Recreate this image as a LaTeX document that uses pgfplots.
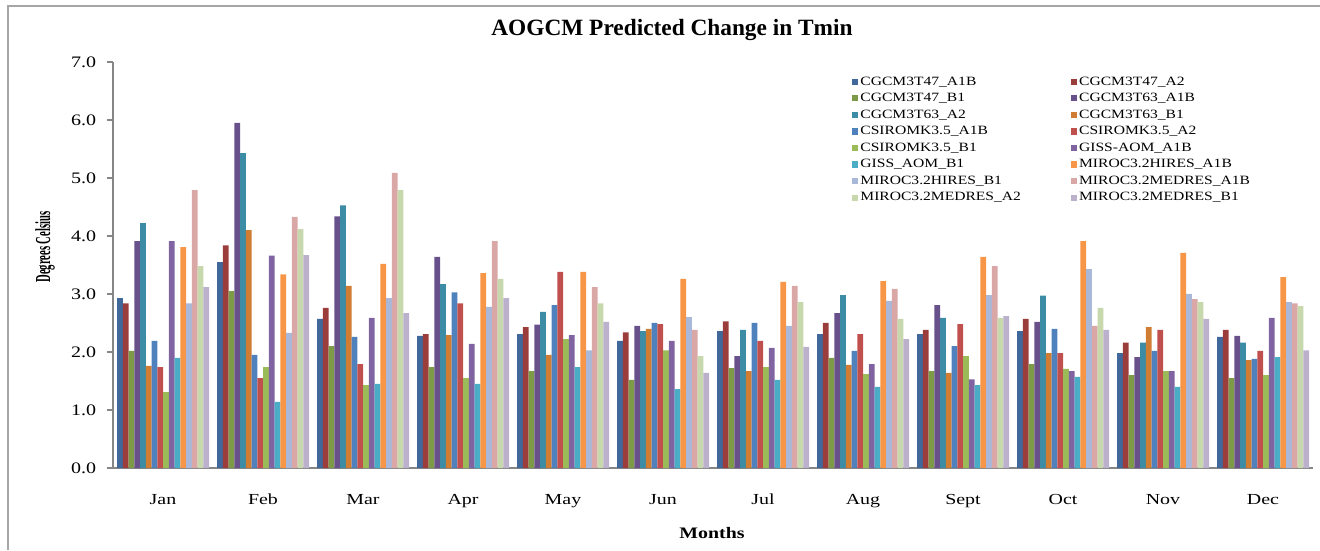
\documentclass[border=0pt]{standalone}
\usepackage{graphicx}
\usepackage{fontspec}
\setmainfont{Liberation Serif}
\usepackage{pgfplots}
\usepackage{pgfplotstable}
\pgfplotsset{compat=1.18}
\definecolor{c1}{HTML}{41689A}
\definecolor{c2}{HTML}{9B3D3A}
\definecolor{c3}{HTML}{7D9A47}
\definecolor{c4}{HTML}{68518A}
\definecolor{c5}{HTML}{3B8CA4}
\definecolor{c6}{HTML}{D07C33}
\definecolor{c7}{HTML}{4F81BD}
\definecolor{c8}{HTML}{C0504D}
\definecolor{c9}{HTML}{9BBB59}
\definecolor{c10}{HTML}{8064A2}
\definecolor{c11}{HTML}{4BACC6}
\definecolor{c12}{HTML}{F79646}
\definecolor{c13}{HTML}{A9B8D9}
\definecolor{c14}{HTML}{D9A7A6}
\definecolor{c15}{HTML}{C7D8AC}
\definecolor{c16}{HTML}{BCB1CC}
\definecolor{axgray}{HTML}{868686}
\definecolor{framegray}{HTML}{A6A6A6}
\newcommand\sx[2][1.3]{\scalebox{#1}[1]{#2}}
\newcommand\mx[1]{\scalebox{1.3}[1]{#1}}
\pgfplotstableread{
x s1 s2 s3 s4 s5 s6 s7 s8 s9 s10 s11 s12 s13 s14 s15 s16
0  2.93 2.84 2.02 3.91 4.22 1.76 2.19 1.74 1.31 3.91 1.90 3.81 2.84 4.79 3.48 3.12
1  3.55 3.84 3.05 5.95 5.43 4.10 1.95 1.55 1.74 3.66 1.14 3.34 2.33 4.33 4.12 3.67
2  2.57 2.76 2.10 4.34 4.53 3.14 2.26 1.79 1.43 2.59 1.45 3.52 2.93 5.09 4.79 2.67
3  2.28 2.31 1.74 3.64 3.17 2.29 3.03 2.84 1.55 2.14 1.45 3.36 2.78 3.91 3.26 2.93
4  2.31 2.43 1.67 2.47 2.69 1.95 2.81 3.38 2.22 2.29 1.74 3.38 2.03 3.12 2.84 2.52
5  2.19 2.34 1.52 2.45 2.36 2.40 2.50 2.48 2.03 2.19 1.36 3.26 2.60 2.38 1.93 1.64
6  2.36 2.53 1.72 1.93 2.38 1.67 2.50 2.19 1.74 2.07 1.52 3.21 2.45 3.14 2.86 2.09
7  2.31 2.50 1.90 2.67 2.98 1.78 2.02 2.31 1.62 1.79 1.40 3.22 2.88 3.09 2.57 2.22
8  2.31 2.38 1.67 2.81 2.59 1.64 2.10 2.48 1.93 1.53 1.43 3.64 2.98 3.48 2.59 2.62
9  2.36 2.57 1.79 2.52 2.97 1.98 2.40 1.98 1.71 1.67 1.57 3.91 3.43 2.45 2.76 2.38
10 1.98 2.16 1.60 1.91 2.16 2.43 2.02 2.38 1.67 1.67 1.40 3.71 3.00 2.91 2.86 2.57
11 2.26 2.38 1.55 2.28 2.16 1.86 1.88 2.02 1.60 2.59 1.91 3.29 2.86 2.84 2.79 2.03
}\datatable
\begin{document}
\begin{tikzpicture}
\path[use as bounding box] (0,0) rectangle (990pt,412.5pt);
\draw[framegray, line width=0.8pt] (6pt,0) -- (6pt,408pt) -- (990pt,408pt);
\begin{axis}[
  at={(84.75pt,61.5pt)}, anchor=south west,
  scale only axis, width=900pt, height=304.5pt,
  xmin=-0.5, xmax=11.5, ymin=0, ymax=7,
  ybar=0pt, bar width=4.3125pt,
  axis lines=left, axis line style={-, draw=axgray, line width=0.8pt},
  xtick=data,
  xticklabels={\mx{Jan},\mx{Feb},\mx{Mar},\mx{Apr},\mx{May},\mx{Jun},\mx{Jul},\mx{Aug},\mx{Sept},\mx{Oct},\mx{Nov},\mx{Dec}},
  xticklabel style={font=\fontsize{11.5}{13}\selectfont, anchor=base, inner sep=0pt, yshift=-22.5pt},
  ytick={0,1,...,7},
  tick align=outside, major tick length=4.5pt,
  tick style={draw=axgray, line width=0.8pt},
  xtick style={draw=none},
  yticklabel style={font=\fontsize{12}{14}\selectfont, anchor=east, inner sep=0pt, xshift=-8pt},
  /pgf/number format/assume math mode=true,
  yticklabel={\sx[1.25]{\pgfmathprintnumber[fixed, fixed zerofill, precision=1]{\tick}}},
  legend columns=2,
  legend cell align=left,
  legend style={draw=none, fill=none, at={(axis description cs:0.6125,0.978)}, anchor=north west,
    font=\fontsize{9.5}{11}\selectfont, row sep=0.4pt,
    nodes={inner sep=1.5pt, text height=7pt, text depth=2pt},
    /tikz/column 2/.style={column sep=36pt}},
  legend image code/.code={\fill[#1] (0pt,-2.3pt) rectangle (4.6pt,2.3pt);},
]
\addplot[draw=none, fill=c1] table[x=x,y=s1]{\datatable};
\addplot[draw=none, fill=c2] table[x=x,y=s2]{\datatable};
\addplot[draw=none, fill=c3] table[x=x,y=s3]{\datatable};
\addplot[draw=none, fill=c4] table[x=x,y=s4]{\datatable};
\addplot[draw=none, fill=c5] table[x=x,y=s5]{\datatable};
\addplot[draw=none, fill=c6] table[x=x,y=s6]{\datatable};
\addplot[draw=none, fill=c7] table[x=x,y=s7]{\datatable};
\addplot[draw=none, fill=c8] table[x=x,y=s8]{\datatable};
\addplot[draw=none, fill=c9] table[x=x,y=s9]{\datatable};
\addplot[draw=none, fill=c10] table[x=x,y=s10]{\datatable};
\addplot[draw=none, fill=c11] table[x=x,y=s11]{\datatable};
\addplot[draw=none, fill=c12] table[x=x,y=s12]{\datatable};
\addplot[draw=none, fill=c13] table[x=x,y=s13]{\datatable};
\addplot[draw=none, fill=c14] table[x=x,y=s14]{\datatable};
\addplot[draw=none, fill=c15] table[x=x,y=s15]{\datatable};
\addplot[draw=none, fill=c16] table[x=x,y=s16]{\datatable};
\addlegendentry{\sx[1.23]{CGCM3T47\_A1B}}
\addlegendentry{\sx[1.23]{CGCM3T47\_A2}}
\addlegendentry{\sx[1.23]{CGCM3T47\_B1}}
\addlegendentry{\sx[1.23]{CGCM3T63\_A1B}}
\addlegendentry{\sx[1.23]{CGCM3T63\_A2}}
\addlegendentry{\sx[1.23]{CGCM3T63\_B1}}
\addlegendentry{\sx[1.23]{CSIROMK3.5\_A1B}}
\addlegendentry{\sx[1.23]{CSIROMK3.5\_A2}}
\addlegendentry{\sx[1.23]{CSIROMK3.5\_B1}}
\addlegendentry{\sx[1.23]{GISS-AOM\_A1B}}
\addlegendentry{\sx[1.23]{GISS\_AOM\_B1}}
\addlegendentry{\sx[1.23]{MIROC3.2HIRES\_A1B}}
\addlegendentry{\sx[1.23]{MIROC3.2HIRES\_B1}}
\addlegendentry{\sx[1.23]{MIROC3.2MEDRES\_A1B}}
\addlegendentry{\sx[1.23]{MIROC3.2MEDRES\_A2}}
\addlegendentry{\sx[1.23]{MIROC3.2MEDRES\_B1}}
\end{axis}
\node[font=\bfseries\fontsize{17.5}{20}\selectfont] at (504pt,390pt) {AOGCM Predicted Change in Tmin};
\node[font=\bfseries\fontsize{12}{14}\selectfont, anchor=base] at (534pt,9pt) {\sx[1.24]{Months}};
\node[font=\bfseries\fontsize{16}{18}\selectfont, rotate=90] at (33.75pt,227.25pt) {\sx[0.5]{Degrees Celsius}};
\end{tikzpicture}
\end{document}
